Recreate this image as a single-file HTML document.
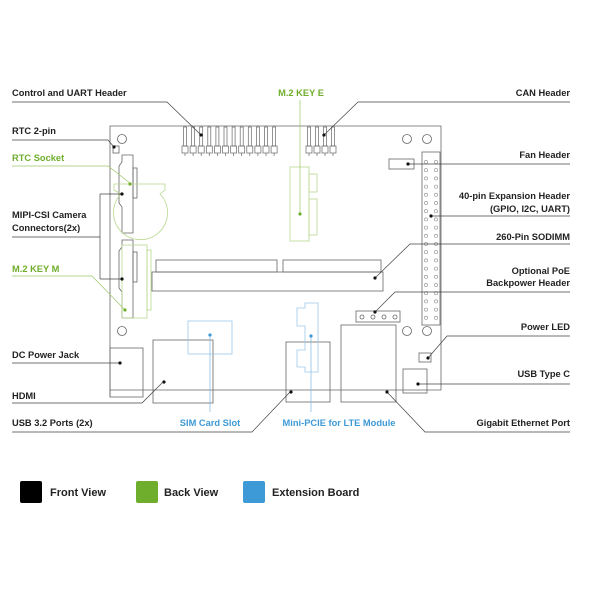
<!DOCTYPE html>
<html><head><style>
body{margin:0;background:#fff;}
svg{display:block;}
text{font-family:"Liberation Sans",sans-serif;font-weight:bold;font-size:9.3px;fill:#222;}
.g{fill:#6fae2c;} .b{fill:#3e9ad7;}
</style></head><body>
<svg width="600" height="600" viewBox="0 0 600 600" xmlns="http://www.w3.org/2000/svg">
<g fill="none" stroke="#666" stroke-width="0.8">
<path d="M110 397 V126 H441 V390 H110"/>
<circle cx="122" cy="139" r="4.5"/><circle cx="407" cy="139" r="4.5"/><circle cx="427" cy="139" r="4.5"/>
<circle cx="122" cy="331" r="4.5"/><circle cx="407" cy="331" r="4.5"/><circle cx="427" cy="331" r="4.5"/>
<rect x="113" y="146" width="6" height="7"/>
<path d="M122 155 H133 V233 H122 V207 L119 203 V166 L122 162 Z"/>
<path d="M122 240 H133 V318 H122 V292 L119 288 V251 L122 247 Z"/>
<rect x="133" y="168" width="4" height="30"/>
<rect x="133" y="252" width="4" height="30"/>
<rect x="156" y="260" width="121" height="12"/>
<rect x="283" y="260" width="98" height="12"/>
<rect x="152" y="272" width="231" height="19"/>
<rect x="422" y="152" width="18" height="173"/>
<rect x="389" y="159" width="25" height="10"/>
<rect x="356" y="311" width="44" height="11"/>
<circle cx="362" cy="317" r="2"/><circle cx="373" cy="317" r="2"/><circle cx="384" cy="317" r="2"/><circle cx="395" cy="317" r="2"/>
<rect x="419" y="353" width="12" height="9"/>
<rect x="403" y="369" width="24" height="24"/>
<rect x="341" y="325" width="55" height="77"/>
<rect x="286" y="342" width="44" height="60"/>
<rect x="153" y="340" width="60" height="63"/>
<rect x="110" y="348" width="33" height="49"/>
</g>
<g fill="none" stroke="#666" stroke-width="0.7">
<g id="pin"><rect x="183.5" y="127" width="3" height="19"/><rect x="182" y="146" width="6" height="7"/><line x1="185" y1="153" x2="185" y2="156"/></g>
<use href="#pin" x="8.1"/><use href="#pin" x="16.2"/><use href="#pin" x="24.3"/><use href="#pin" x="32.4"/><use href="#pin" x="40.5"/><use href="#pin" x="48.6"/><use href="#pin" x="56.7"/><use href="#pin" x="64.8"/><use href="#pin" x="72.9"/><use href="#pin" x="81"/><use href="#pin" x="89.1"/>
<use href="#pin" x="124"/><use href="#pin" x="132"/><use href="#pin" x="140"/><use href="#pin" x="148"/>
</g>
<g fill="none" stroke="#888" stroke-width="0.6" id="pins40">
<circle cx="426" cy="162" r="1.6"/><circle cx="436" cy="162" r="1.6"/>
</g>
<g fill="none" stroke="#888" stroke-width="0.6">
<use href="#pins40" y="8.2"/><use href="#pins40" y="16.4"/><use href="#pins40" y="24.6"/><use href="#pins40" y="32.8"/><use href="#pins40" y="41"/><use href="#pins40" y="49.2"/><use href="#pins40" y="57.4"/><use href="#pins40" y="65.6"/><use href="#pins40" y="73.8"/><use href="#pins40" y="82"/><use href="#pins40" y="90.2"/><use href="#pins40" y="98.4"/><use href="#pins40" y="106.6"/><use href="#pins40" y="114.8"/><use href="#pins40" y="123"/><use href="#pins40" y="131.2"/><use href="#pins40" y="139.4"/><use href="#pins40" y="147.6"/><use href="#pins40" y="155.8"/>
</g>
<g fill="none" stroke="#b9d88f" stroke-width="0.8">
<path d="M114 184 H165 V190 L160 194 A27 27 0 1 1 121 194 L114 190 Z"/>
<rect x="122" y="245" width="25" height="73"/>
<rect x="147" y="250" width="4" height="60"/>
<rect x="290" y="167" width="19" height="74"/>
<rect x="309" y="174" width="8" height="18"/><rect x="309" y="199" width="8" height="36"/>
</g>
<g fill="none" stroke="#9cc9ea" stroke-width="0.8">
<rect x="188" y="321" width="44" height="33"/>
<path d="M305 303 H318 V372 H305 V367 H297 V350 H305 V326 H297 V308 H305 Z"/>
</g>
<g fill="none" stroke="#444" stroke-width="0.7">
<path d="M12 102 H167 L201 135"/>
<path d="M12 140 H108 L114 147"/>
<path d="M12 237 H100 M100 194 V279 M100 194 H122 M100 279 H122"/>
<path d="M12 363 H120"/>
<path d="M12 403 H142 L164 381"/>
<path d="M12 432 H252 L290 392"/>
<path d="M570 102 H358 L324 135"/>
<path d="M570 164 H408"/>
<path d="M570 216 H431"/>
<path d="M570 244 H410 L375 278"/>
<path d="M570 292 H395 L375 312"/>
<path d="M570 336 H447 L428 358"/>
<path d="M570 384 H418"/>
<path d="M570 432 H425 L387 392"/>
</g>
<g fill="none" stroke="#9cc86a" stroke-width="0.7">
<path d="M12 166 H108 L130 183"/>
<path d="M12 276 H92 L125 310"/>
<path d="M300 100 V214"/>
</g>
<g fill="none" stroke="#7db6e3" stroke-width="0.7">
<path d="M210 335 V412"/><path d="M311 336 V412"/>
</g>
<g fill="#111">
<circle cx="201" cy="135" r="1.6"/><circle cx="324" cy="135" r="1.6"/><circle cx="114" cy="147" r="1.6"/>
<circle cx="122" cy="194" r="1.6"/><circle cx="122" cy="279" r="1.6"/><circle cx="120" cy="363" r="1.6"/>
<circle cx="164" cy="382" r="1.6"/><circle cx="291" cy="392" r="1.6"/><circle cx="408" cy="164" r="1.6"/>
<circle cx="431" cy="216" r="1.6"/><circle cx="375" cy="278" r="1.6"/><circle cx="375" cy="312" r="1.6"/>
<circle cx="428" cy="358" r="1.6"/><circle cx="418" cy="384" r="1.6"/><circle cx="387" cy="392" r="1.6"/>
</g>
<g fill="#6fae2c"><circle cx="130" cy="184" r="1.6"/><circle cx="125" cy="310" r="1.6"/><circle cx="300" cy="214" r="1.6"/></g>
<g fill="#3e9ad7"><circle cx="210" cy="335" r="1.6"/><circle cx="311" cy="336" r="1.6"/></g>
<text x="12" y="96">Control and UART Header</text>
<text x="12" y="134">RTC 2-pin</text>
<text x="12" y="161" class="g">RTC Socket</text>
<text x="12" y="218">MIPI-CSI Camera</text>
<text x="12" y="231">Connectors(2x)</text>
<text x="12" y="272" class="g">M.2 KEY M</text>
<text x="12" y="358">DC Power Jack</text>
<text x="12" y="399">HDMI</text>
<text x="12" y="426">USB 3.2 Ports (2x)</text>
<text x="210" y="426" class="b" text-anchor="middle">SIM Card Slot</text>
<text x="339" y="426" class="b" text-anchor="middle">Mini-PCIE for LTE Module</text>
<text x="301" y="96" class="g" text-anchor="middle">M.2 KEY E</text>
<g text-anchor="end">
<text x="570" y="96">CAN Header</text>
<text x="570" y="158">Fan Header</text>
<text x="570" y="199">40-pin Expansion Header</text>
<text x="570" y="212">(GPIO, I2C, UART)</text>
<text x="570" y="240">260-Pin SODIMM</text>
<text x="570" y="274">Optional PoE</text>
<text x="570" y="286">Backpower Header</text>
<text x="570" y="330">Power LED</text>
<text x="570" y="377">USB Type C</text>
<text x="570" y="426">Gigabit Ethernet Port</text>
</g>
<rect x="20" y="481" width="22" height="22" rx="2" fill="#000"/>
<rect x="136" y="481" width="22" height="22" rx="2" fill="#6fae2c"/>
<rect x="243" y="481" width="22" height="22" rx="2" fill="#3e9ad7"/>
<text x="50" y="496" style="font-size:11px">Front View</text>
<text x="164" y="496" style="font-size:11px">Back View</text>
<text x="272" y="496" style="font-size:11px">Extension Board</text>
</svg>
</body></html>
